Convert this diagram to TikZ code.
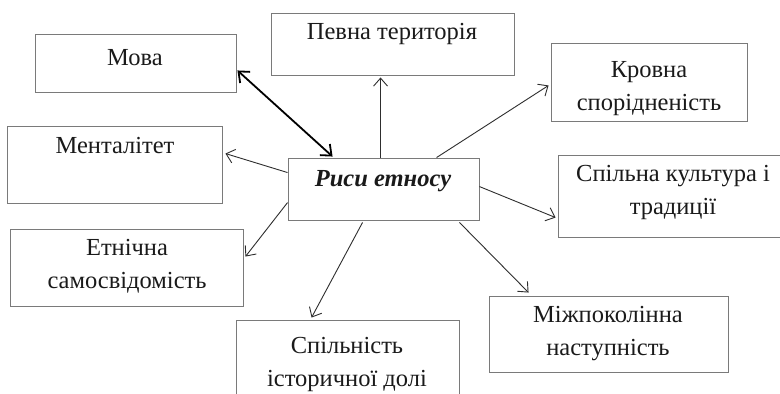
\documentclass[tikz,border=0pt]{standalone}
\usepackage{fontspec}
\setmainfont{Liberation Serif}
\usetikzlibrary{arrows.meta,calc}
\definecolor{boxline}{HTML}{7A7A7A}
\definecolor{arrline}{HTML}{2E2E2E}
\definecolor{txt}{HTML}{1A1A1A}
\tikzset{
  box/.style={draw=boxline, line width=0.9pt, inner sep=0pt, rectangle},
  lbl/.style={align=center, text=txt, inner sep=0pt, font=\fontsize{24.5}{33}\selectfont},
  conn/.style={draw=arrline, line width=0.9pt, -{Straight Barb[length=8pt,width=14pt]}},
  bold conn/.style={draw=black, line width=1.8pt, {Straight Barb[length=9pt,width=15pt]}-{Straight Barb[length=9pt,width=15pt]}}
}
\newcommand{\mkbox}[5]{\node[box, minimum width={#4-#2}, minimum height={#5-#3}] (#1) at ({(#2+#4)/2},{(#3+#5)/2}) {};}
\begin{document}
\begin{tikzpicture}[x=1pt,y=-1pt]
\useasboundingbox (0,0) rectangle (780,394);
\fill[white] (0,0) rectangle (780,394);
% boxes
\mkbox{mova}{35}{34}{236}{92}
\mkbox{terr}{271}{13}{514}{75}
\mkbox{krov}{551}{43}{747}{121}
\mkbox{ment}{7}{126}{222}{203}
\mkbox{risy}{288}{158}{479}{220}
\mkbox{kult}{558}{155}{790}{237}
\mkbox{etn}{10}{229}{243}{306}
\mkbox{dolia}{236}{320}{459}{410}
\mkbox{mizh}{489}{296}{728}{372}
% labels
\node[lbl] (tmova) at (135,58) {Мова};
\node[lbl] (tterr) at (392,34) {Певна територія};
\node[lbl] (tkrov) at (649,89) {Кровна\\спорідненість};
\node[lbl] (tment) at (115,146) {Менталітет};
\node[lbl, font=\fontsize{24.5}{33}\selectfont\bfseries\itshape] (trisy) at (383,181) {Риси етносу};
\node[lbl] (tkult) at (673,192) {Спільна культура і\\традиції};
\node[lbl] (tetn) at (127,266) {Етнічна\\самосвідомість};
\node[lbl] (tdolia) at (347,364) {Спільність\\історичної долі};
\node[lbl] (tmizh) at (608,334) {Міжпоколінна\\наступність};
% connectors
\draw[bold conn] ($(mova.south east)+(1,-22)$) -- ($(risy.north west)+(45,-1)$);
\draw[conn] ($(risy.north west)+(93,0)$) -- ($(terr.south west)+(110,2)$);
\draw[conn] ($(risy.north west)+(149,0)$) -- ($(krov.south west)+(-2,-36)$);
\draw[conn] ($(risy.north west)+(0,15)$) -- ($(ment.north east)+(3,28)$);
\draw[conn] ($(risy.north west)+(0,45)$) -- ($(etn.north east)+(2,28)$);
\draw[conn] ($(risy.south west)+(75,2)$) -- ($(dolia.north west)+(76,-2)$);
\draw[conn] ($(risy.north east)+(0,29)$) -- ($(kult.north west)+(-2,63)$);
\draw[conn] ($(risy.south east)+(-20,2)$) -- ($(mizh.north west)+(40,-3)$);
\end{tikzpicture}
\end{document}
